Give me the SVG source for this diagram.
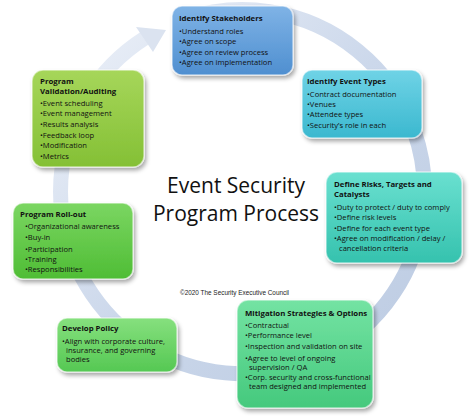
<svg xmlns="http://www.w3.org/2000/svg" width="474" height="420" viewBox="0 0 474 420">
<defs>
<linearGradient id="ring" x1="0" y1="0" x2="1" y2="1">
<stop offset="0" stop-color="#eef2f9"/>
<stop offset="0.5" stop-color="#ccd8eb"/>
<stop offset="1" stop-color="#bccbe2"/>
</linearGradient>
<filter id="sh" x="-10%" y="-10%" width="125%" height="130%">
<feDropShadow dx="2" dy="3" stdDeviation="2" flood-color="#000" flood-opacity="0.35"/>
</filter>
<linearGradient id="gBlue" x1="0" y1="0" x2="0" y2="1"><stop offset="0" stop-color="#7fb3e6"/><stop offset="1" stop-color="#4f8fd0"/></linearGradient>
<linearGradient id="gCyan" x1="0" y1="0" x2="0" y2="1"><stop offset="0" stop-color="#6fd3e6"/><stop offset="1" stop-color="#3bb8cf"/></linearGradient>
<linearGradient id="gTeal" x1="0" y1="0" x2="0" y2="1"><stop offset="0" stop-color="#6ae0d0"/><stop offset="1" stop-color="#35c2ae"/></linearGradient>
<linearGradient id="gMint" x1="0" y1="0" x2="0" y2="1"><stop offset="0" stop-color="#74e3a3"/><stop offset="1" stop-color="#45c97d"/></linearGradient>
<linearGradient id="gGreen" x1="0" y1="0" x2="0" y2="1"><stop offset="0" stop-color="#86e07e"/><stop offset="1" stop-color="#55c853"/></linearGradient>
<linearGradient id="gLeaf" x1="0" y1="0" x2="0" y2="1"><stop offset="0" stop-color="#7bd662"/><stop offset="1" stop-color="#4fbd35"/></linearGradient>
<linearGradient id="gOlive" x1="0" y1="0" x2="0" y2="1"><stop offset="0" stop-color="#a6d65a"/><stop offset="1" stop-color="#84c035"/></linearGradient>
</defs>
<style>
.box{filter:url(#sh);stroke:#ffffff;stroke-opacity:0.55;stroke-width:1.5}
.t{font-family:"Open Sans","Liberation Sans",sans-serif;fill:#111;font-size:7.6px}
.h{font-weight:bold;font-size:7.8px}
.title{font-family:"Open Sans","Liberation Sans",sans-serif;font-size:21px;fill:#111;text-anchor:middle}
.copy{font-family:"Liberation Sans",sans-serif;font-size:6.4px;fill:#222}
</style>
<rect width="474" height="420" fill="#ffffff"/>
<g id="connectors">
<path d="M 185 19 A 182 182 0 1 1 145 38" fill="none" stroke="url(#ring)" stroke-width="15"/>
<polygon points="136,27 153,52 166,30" fill="#dbe3f0"/>
</g>
<g id="center-title">
<text class="title" x="236" y="193">Event Security</text>
<text class="title" x="236" y="221">Program Process</text>
<text class="copy" x="180" y="295">©2020 The Security Executive Council</text>
</g>
<g id="identify-stakeholders">
<rect class="box" x="172" y="6" width="121" height="69" rx="10" fill="url(#gBlue)"/>
<text class="t h" x="179" y="21">Identify Stakeholders</text>
<text class="t" x="179" y="34">•Understand roles</text>
<text class="t" x="179" y="44">•Agree on scope</text>
<text class="t" x="179" y="55">•Agree on review process</text>
<text class="t" x="179" y="65">•Agree on implementation</text>
</g>
<g id="identify-event-types">
<rect class="box" x="302" y="70" width="120" height="68" rx="10" fill="url(#gCyan)"/>
<text class="t h" x="307" y="84">Identify Event Types</text>
<text class="t" x="307" y="97">•Contract documentation</text>
<text class="t" x="307" y="107">•Venues</text>
<text class="t" x="307" y="117">•Attendee types</text>
<text class="t" x="307" y="128">•Security’s role in each</text>
</g>
<g id="define-risks">
<rect class="box" x="326" y="172" width="136" height="91" rx="11" fill="url(#gTeal)"/>
<text class="t h" x="334" y="187">Define Risks, Targets and</text>
<text class="t h" x="334" y="197">Catalysts</text>
<text class="t" x="334" y="210">•Duty to protect / duty to comply</text>
<text class="t" x="334" y="220">•Define risk levels</text>
<text class="t" x="334" y="231">•Define for each event type</text>
<text class="t" x="334" y="241">•Agree on modification / delay /</text>
<text class="t" x="339" y="251">cancellation criteria</text>
</g>
<g id="mitigation">
<rect class="box" x="237" y="300" width="136" height="108" rx="11" fill="url(#gMint)"/>
<text class="t h" x="245" y="316">Mitigation Strategies &amp; Options</text>
<text class="t" x="245" y="328">•Contractual</text>
<text class="t" x="245" y="338">•Performance level</text>
<text class="t" x="245" y="349">•Inspection and validation on site</text>
<text class="t" x="245" y="361">•Agree to level of ongoing</text>
<text class="t" x="249" y="370">supervision / QA</text>
<text class="t" x="245" y="380">•Corp. security and cross-functional</text>
<text class="t" x="249" y="389">team designed and implemented</text>
</g>
<g id="develop-policy">
<rect class="box" x="57" y="318" width="120" height="54" rx="10" fill="url(#gGreen)"/>
<text class="t h" x="62" y="331">Develop Policy</text>
<text class="t" x="62" y="344">•Align with corporate culture,</text>
<text class="t" x="66" y="353">insurance, and governing</text>
<text class="t" x="66" y="362">bodies</text>
</g>
<g id="program-rollout">
<rect class="box" x="13" y="203" width="120" height="76" rx="10" fill="url(#gLeaf)"/>
<text class="t h" x="20" y="217">Program Roll-out</text>
<text class="t" x="25" y="229">•Organizational awareness</text>
<text class="t" x="25" y="240">•Buy-in</text>
<text class="t" x="25" y="252">•Participation</text>
<text class="t" x="25" y="262">•Training</text>
<text class="t" x="25" y="272">•Responsibilities</text>
</g>
<g id="program-validation">
<rect class="box" x="32" y="70" width="112" height="97" rx="11" fill="url(#gOlive)"/>
<text class="t h" x="40" y="84">Program</text>
<text class="t h" x="40" y="94">Validation/Auditing</text>
<text class="t" x="40" y="106">•Event scheduling</text>
<text class="t" x="40" y="116">•Event management</text>
<text class="t" x="40" y="127">•Results analysis</text>
<text class="t" x="40" y="138">•Feedback loop</text>
<text class="t" x="40" y="148">•Modification</text>
<text class="t" x="40" y="159">•Metrics</text>
</g>
</svg>
